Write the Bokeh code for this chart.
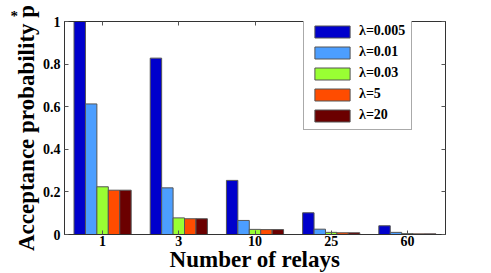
from bokeh.plotting import figure
from bokeh.models import (Range1d, FixedTicker, LinearAxis,
                          Legend, LegendItem, Title, ColumnDataSource)
from bokeh.transform import dodge
from bokeh.embed import file_html
from bokeh.resources import INLINE

relays = ["1", "3", "10", "25", "60"]
lam_labels = ["λ=0.005", "λ=0.01", "λ=0.03", "λ=5", "λ=20"]
p_l0005 = [1.0, 0.828, 0.254, 0.102, 0.041]
p_l001 = [0.613, 0.219, 0.066, 0.025, 0.010]
p_l003 = [0.224, 0.078, 0.024, 0.010, 0.004]
p_l5 = [0.208, 0.074, 0.023, 0.008, 0.003]
p_l20 = [0.208, 0.074, 0.023, 0.008, 0.003]
y_ticks = [0, 0.2, 0.4, 0.6, 0.8, 1.0]

series = [p_l0005, p_l001, p_l003, p_l5, p_l20]
colors = ["#0000CC", "#4C9EFF", "#99FF33", "#FF4C00", "#6B0000"]
offsets = [-0.3, -0.15, 0.0, 0.15, 0.3]
bar_w = 0.15

FONT = "Liberation Serif"

# group centres: one slot per relay category
xc = [i + 0.5 for i in range(len(relays))]
src = ColumnDataSource(dict(xc=xc, s0=p_l0005, s1=p_l001, s2=p_l003, s3=p_l5, s4=p_l20))

p = figure(x_range=Range1d(0, len(relays)), y_range=Range1d(0, 1),
           frame_width=381, frame_height=213,
           min_border_left=64, min_border_right=44, min_border_top=21, min_border_bottom=30,
           output_backend="svg", toolbar_location=None)
p.background_fill_color = "white"
p.border_fill_color = "white"
p.outline_line_color = "#333333"
p.outline_line_width = 1
p.xgrid.visible = False
p.ygrid.visible = False

items = []
for i, (s, c) in enumerate(zip(series, colors)):
    r = p.vbar(x=dodge("xc", offsets[i]), top="s%d" % i, width=bar_w,
               source=src, fill_color=c, line_color="#555555", line_width=1)
    items.append(LegendItem(label=lam_labels[i], renderers=[r]))

def style_axis(ax):
    ax.major_tick_in = 4
    ax.major_tick_out = 0
    ax.minor_tick_in = 0
    ax.minor_tick_out = 0
    ax.axis_line_color = "#333333"
    ax.major_tick_line_color = "#555555"
    ax.major_label_text_font = FONT
    ax.major_label_text_font_style = "bold"
    ax.major_label_text_font_size = "14px"
    ax.major_label_text_color = "black"
    ax.axis_label_text_font = FONT
    ax.axis_label_text_font_style = "bold"
    ax.axis_label_text_font_size = "23px"
    ax.axis_label_text_color = "black"

ya = p.yaxis[0]
ya.ticker = FixedTicker(ticks=y_ticks)
ya.major_label_overrides = {0: "0", 1: "1"}
style_axis(ya)
ya.major_label_standoff = 4
ya.axis_label = "Acceptance probability p"
ya.axis_label_standoff = 1

xa = p.xaxis[0]
xa.ticker = FixedTicker(ticks=xc)
xa.major_label_overrides = {t: lab for t, lab in zip(xc, relays)}
style_axis(xa)
xa.major_label_standoff = 1
xa.axis_label = "Number of relays"
xa.axis_label_standoff = -2

ra = LinearAxis(ticker=FixedTicker(ticks=y_ticks))
style_axis(ra)
ra.major_label_overrides = {t: "" for t in y_ticks}
ra.major_label_standoff = 0
p.add_layout(ra, "right")

ta = LinearAxis(ticker=FixedTicker(ticks=xc))
style_axis(ta)
ta.major_label_overrides = {t: "" for t in xc}
ta.major_label_standoff = 0
p.add_layout(ta, "above")

legend = Legend(items=items, location=(239, 104), orientation="vertical",
                glyph_width=44, glyph_height=15, label_height=15, spacing=5,
                padding=6, margin=0, label_standoff=5,
                label_text_font=FONT, label_text_font_style="bold", label_text_font_size="14px",
                label_text_color="black",
                border_line_color="#555555", border_line_width=1,
                background_fill_color="white", background_fill_alpha=1)
p.add_layout(legend, "center")

star = Title(text="*", align="left", offset=-54, standoff=-4,
             text_font=FONT, text_font_style="bold", text_font_size="15px", text_color="black")
p.add_layout(star, "above")

open("out.html", "w").write(file_html(p, INLINE))
